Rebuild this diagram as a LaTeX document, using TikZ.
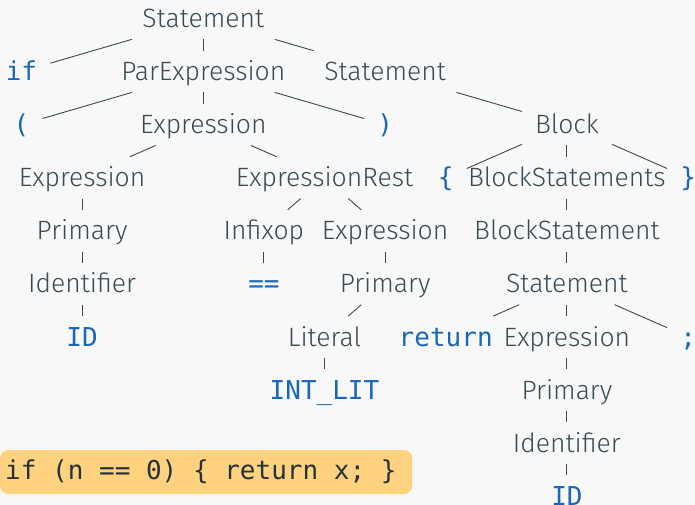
\documentclass[tikz,border=0pt]{standalone}
\usepackage{fontspec}
\setmainfont{Fira Sans}[UprightFont={* Light}]
\setmonofont{DejaVu Sans Mono}
\definecolor{ink}{HTML}{3B4A52}
\definecolor{codeink}{HTML}{263238}
\definecolor{tokblue}{HTML}{1A66B8}
\definecolor{paper}{HTML}{F8F8F8}
\definecolor{hilite}{HTML}{FFD27F}
\tikzset{
  tn/.style={inner xsep=13pt, inner ysep=11.5pt, text height=18.3pt, text depth=0pt},
  nt/.style={tn, text=ink, font=\fontsize{26.5}{30}\selectfont},
  tok/.style={tn, text=tokblue, font=\fontsize{26}{30}\selectfont\ttfamily},
  edge/.style={draw=ink, line width=0.9pt}
}

\begin{document}
\begin{tikzpicture}[x=60.6pt,y=-53.06pt]
  %background
  \useasboundingbox [fill=paper] (-21.5pt,18.5pt) rectangle (673.5pt,-486.5pt);
  %draw the nodes, row by row
  \node [nt] (st) at (3,0) {Statement};
  \node [tok] (ifkw) at (0,1) {if};
  \node [nt] (parexpr) at (3,1) {ParExpression};
  \node [nt] (st2) at (6,1) {Statement};
  \node [tok] (lpar) at (0,2) {(};
  \node [nt] (expr) at (3,2) {Expression};
  \node [tok] (rpar) at (6,2) {)};
  \node [nt] (block) at (9,2) {Block};
  \node [nt] (exprl) at (1,3) {Expression};
  \node [nt] (exprrest) at (5,3) {ExpressionRest};
  \node [tok] (lbrace) at (7,3) {\{};
  \node [nt] (blockstmts) at (9,3) {BlockStatements};
  \node [tok] (rbrace) at (11,3) {\}};
  \node [nt] (primaryl) at (1,4) {Primary};
  \node [nt] (infixop) at (4,4) {Infixop};
  \node [nt] (exprr) at (6,4) {Expression};
  \node [nt] (blockstmt) at (9,4) {BlockStatement};
  \node [nt] (identl) at (1,5) {Identifier};
  \node [tok] (eqeq) at (4,5) {==};
  \node [nt] (primaryr) at (6,5) {Primary};
  \node [nt] (st3) at (9,5) {Statement};
  \node [tok] (idl) at (1,6) {ID};
  \node [nt] (literal) at (5,6) {Literal};
  \node [tok] (retkw) at (7,6) {return};
  \node [nt] (expr3) at (9,6) {Expression};
  \node [tok] (semi) at (11,6) {;};
  \node [tok] (intlit) at (5,7) {INT\_LIT};
  \node [nt] (primary3) at (9,7) {Primary};
  \node [nt] (ident3) at (9,8) {Identifier};
  \node [tok] (id3) at (9,9) {ID};
  %draw the edges
  \draw [edge] (st) -- (ifkw);
  \draw [edge] (st) -- (parexpr);
  \draw [edge] (st) -- (st2);
  \draw [edge] (parexpr) -- (lpar);
  \draw [edge] (parexpr) -- (expr);
  \draw [edge] (parexpr) -- (rpar);
  \draw [edge] (st2) -- (block);
  \draw [edge] (expr) -- (exprl);
  \draw [edge] (expr) -- (exprrest);
  \draw [edge] (block) -- (lbrace);
  \draw [edge] (block) -- (blockstmts);
  \draw [edge] (block) -- (rbrace);
  \draw [edge] (exprl) -- (primaryl);
  \draw [edge] (primaryl) -- (identl);
  \draw [edge] (identl) -- (idl);
  \draw [edge] (exprrest) -- (infixop);
  \draw [edge] (exprrest) -- (exprr);
  \draw [edge] (infixop) -- (eqeq);
  \draw [edge] (exprr) -- (primaryr);
  \draw [edge] (primaryr) -- (literal);
  \draw [edge] (literal) -- (intlit);
  \draw [edge] (blockstmts) -- (blockstmt);
  \draw [edge] (blockstmt) -- (st3);
  \draw [edge] (st3) -- (retkw);
  \draw [edge] (st3) -- (expr3);
  \draw [edge] (st3) -- (semi);
  \draw [edge] (expr3) -- (primary3);
  \draw [edge] (primary3) -- (ident3);
  \draw [edge] (ident3) -- (id3);
  %the source line
  \node [anchor=west, fill=hilite, rounded corners=8pt, inner xsep=5pt, minimum height=44pt,
    text=codeink, font=\fontsize{26}{30}\selectfont\ttfamily]
    (code) at (-21.5pt,-453.5pt) {\makebox[402pt][l]{if~(n~==~0)~\{~return~x;~\}}};
\end{tikzpicture}
\end{document}
